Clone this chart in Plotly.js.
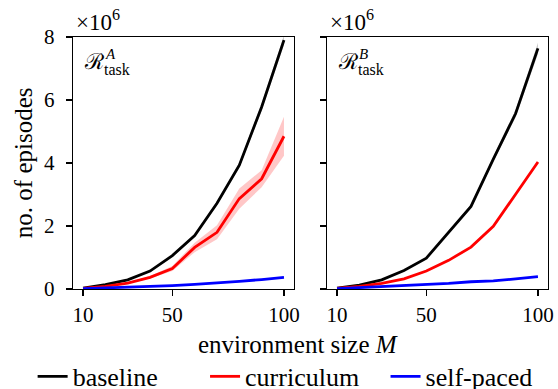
<!DOCTYPE html>
<html>
<head>
<meta charset="utf-8">
<script src="https://cdn.plot.ly/plotly-3.0.1.min.js"></script>
<style>html,body{margin:0;padding:0;background:#fff;}#chart{width:558px;height:389px;}</style>
</head>
<body>
<div id="chart"></div>
<script>
// environment sizes M
const sizes = [10, 20, 30, 40, 50, 60, 70, 80, 90, 100];
// number of episodes (in units of 1e6), task A
const baselineA   = [0.03, 0.14, 0.29, 0.57, 1.06, 1.70, 2.72, 3.93, 5.78, 7.90];
const baselineAsd = [0.00, 0.01, 0.01, 0.02, 0.03, 0.04, 0.06, 0.08, 0.12, 0.15];
const curricA     = [0.02, 0.08, 0.19, 0.37, 0.65, 1.32, 1.80, 2.87, 3.50, 4.85];
const curricAsd   = [0.00, 0.01, 0.02, 0.04, 0.08, 0.15, 0.22, 0.32, 0.27, 0.62];
const selfA       = [0.01, 0.03, 0.05, 0.08, 0.11, 0.15, 0.19, 0.24, 0.30, 0.37];
// task B
const baselineB   = [0.03, 0.12, 0.29, 0.59, 0.98, 1.80, 2.62, 4.12, 5.57, 7.64];
const baselineBsd = [0.00, 0.01, 0.01, 0.02, 0.03, 0.04, 0.06, 0.08, 0.12, 0.18];
const curricB     = [0.02, 0.08, 0.18, 0.32, 0.57, 0.91, 1.33, 1.99, 3.01, 4.03];
const curricBsd   = [0.00, 0.00, 0.01, 0.01, 0.01, 0.02, 0.02, 0.03, 0.03, 0.04];
const selfB       = [0.01, 0.04, 0.07, 0.10, 0.14, 0.18, 0.23, 0.26, 0.32, 0.39];

const xTicks = [10, 50, 100];
const yTicks = [0, 2, 4, 6, 8];
const yTickText = ['0', '2', '4', '6', '8'];
const seriesNames = ['baseline', 'curriculum', 'self-paced'];

const FONT = 'Liberation Serif';

function band(mean, sd, color, xa, ya) {
  const up = mean.map((v, i) => v + sd[i]);
  const lo = mean.map((v, i) => v - sd[i]);
  return {
    x: sizes.concat(sizes.slice().reverse()),
    y: up.concat(lo.slice().reverse()),
    xaxis: xa, yaxis: ya, type: 'scatter', mode: 'lines',
    fill: 'toself', fillcolor: color, line: {width: 0}, hoverinfo: 'skip', showlegend: false
  };
}
function line(vals, color, xa, ya, name, leg, show) {
  return {x: sizes, y: vals, xaxis: xa, yaxis: ya, type: 'scatter', mode: 'lines',
    line: {color: color, width: 2.8}, name: name, legend: leg, showlegend: show};
}

const traces = [
  band(baselineA, baselineAsd, 'rgba(0,0,0,0.22)', 'x', 'y'),
  band(curricA, curricAsd, 'rgba(255,0,0,0.22)', 'x', 'y'),
  line(baselineA, '#000000', 'x', 'y', seriesNames[0], 'legend', true),
  line(curricA, '#ff0000', 'x', 'y', seriesNames[1], 'legend2', true),
  line(selfA, '#0000ff', 'x', 'y', seriesNames[2], 'legend3', true),
  band(baselineB, baselineBsd, 'rgba(0,0,0,0.22)', 'x2', 'y2'),
  band(curricB, curricBsd, 'rgba(255,0,0,0.22)', 'x2', 'y2'),
  line(baselineB, '#000000', 'x2', 'y2', seriesNames[0], 'legend', false),
  line(curricB, '#ff0000', 'x2', 'y2', seriesNames[1], 'legend2', false),
  line(selfB, '#0000ff', 'x2', 'y2', seriesNames[2], 'legend3', false)
];

const axisCommon = {
  showline: true, linecolor: '#000', linewidth: 1.3, mirror: true,
  ticks: 'outside', ticklen: 6, tickwidth: 1.3, tickcolor: '#000',
  showgrid: false, zeroline: false,
  tickfont: {family: FONT, size: 21, color: '#000'}
};
const xAx = (dom, anchor) => Object.assign({}, axisCommon, {
  domain: dom, anchor: anchor, range: [5.5, 104.5], tickmode: 'array', tickvals: xTicks
});
const yAx = (anchor, labels) => Object.assign({}, axisCommon, {
  anchor: anchor, range: [0, 8], tickmode: 'array', tickvals: yTicks, ticktext: yTickText,
  showticklabels: labels, ticklabelstandoff: 7
});

const legendCommon = {orientation: 'h', yanchor: 'middle', y: -0.347, xanchor: 'left',
  font: {family: FONT, size: 26, color: '#000'}, bgcolor: 'rgba(0,0,0,0)', borderwidth: 0};

function panelLabel(xa, ya, letter) {
  return [
    {xref: xa + ' domain', yref: ya + ' domain', x: 0, y: 1, xanchor: 'left', yanchor: 'top',
     xshift: 9, yshift: -10, text: 'ℛ', showarrow: false,
     font: {family: 'DejaVu Serif', size: 22, color: '#000'}},
    {xref: xa + ' domain', yref: ya + ' domain', x: 0, y: 1, xanchor: 'left', yanchor: 'top',
     xshift: 30, yshift: -7, text: '<i>' + letter + '</i>', showarrow: false,
     font: {family: FONT, size: 15, color: '#000'}},
    {xref: xa + ' domain', yref: ya + ' domain', x: 0, y: 1, xanchor: 'left', yanchor: 'top',
     xshift: 29, yshift: -22, text: 'task', showarrow: false,
     font: {family: FONT, size: 16, color: '#000'}},
    {xref: xa + ' domain', yref: ya + ' domain', x: 0, y: 1, xanchor: 'left', yanchor: 'bottom',
     xshift: 1, yshift: 0, text: '×10<sup>6</sup>', showarrow: false,
     font: {family: FONT, size: 23, color: '#000'}}
  ];
}

const layout = {
  width: 558, height: 389,
  margin: {l: 73, r: 10, t: 37, b: 100, autoexpand: false},
  paper_bgcolor: '#fff', plot_bgcolor: '#fff',
  font: {family: FONT, color: '#000'},
  showlegend: true,
  xaxis: xAx([0, 0.4653], 'y'),
  yaxis: yAx('x', true),
  xaxis2: xAx([0.5347, 1], 'y2'),
  yaxis2: yAx('x2', false),
  legend: Object.assign({}, legendCommon, {x: -0.085}),
  legend2: Object.assign({}, legendCommon, {x: 0.278}),
  legend3: Object.assign({}, legendCommon, {x: 0.658}),
  annotations: [
    {xref: 'paper', yref: 'paper', x: 0.4737, y: -0.222, xanchor: 'center', yanchor: 'middle',
     text: 'environment size <i>M</i>', showarrow: false,
     font: {family: FONT, size: 25, color: '#000'}},
    {xref: 'paper', yref: 'paper', x: -0.105, y: 0.5, xanchor: 'center', yanchor: 'middle',
     textangle: -90, text: 'no. of episodes', showarrow: false,
     font: {family: FONT, size: 25, color: '#000'}}
  ].concat(panelLabel('x', 'y', 'A'), panelLabel('x2', 'y2', 'B'))
};

Plotly.newPlot('chart', traces, layout, {displayModeBar: false, staticPlot: true});
</script>
</body>
</html>
